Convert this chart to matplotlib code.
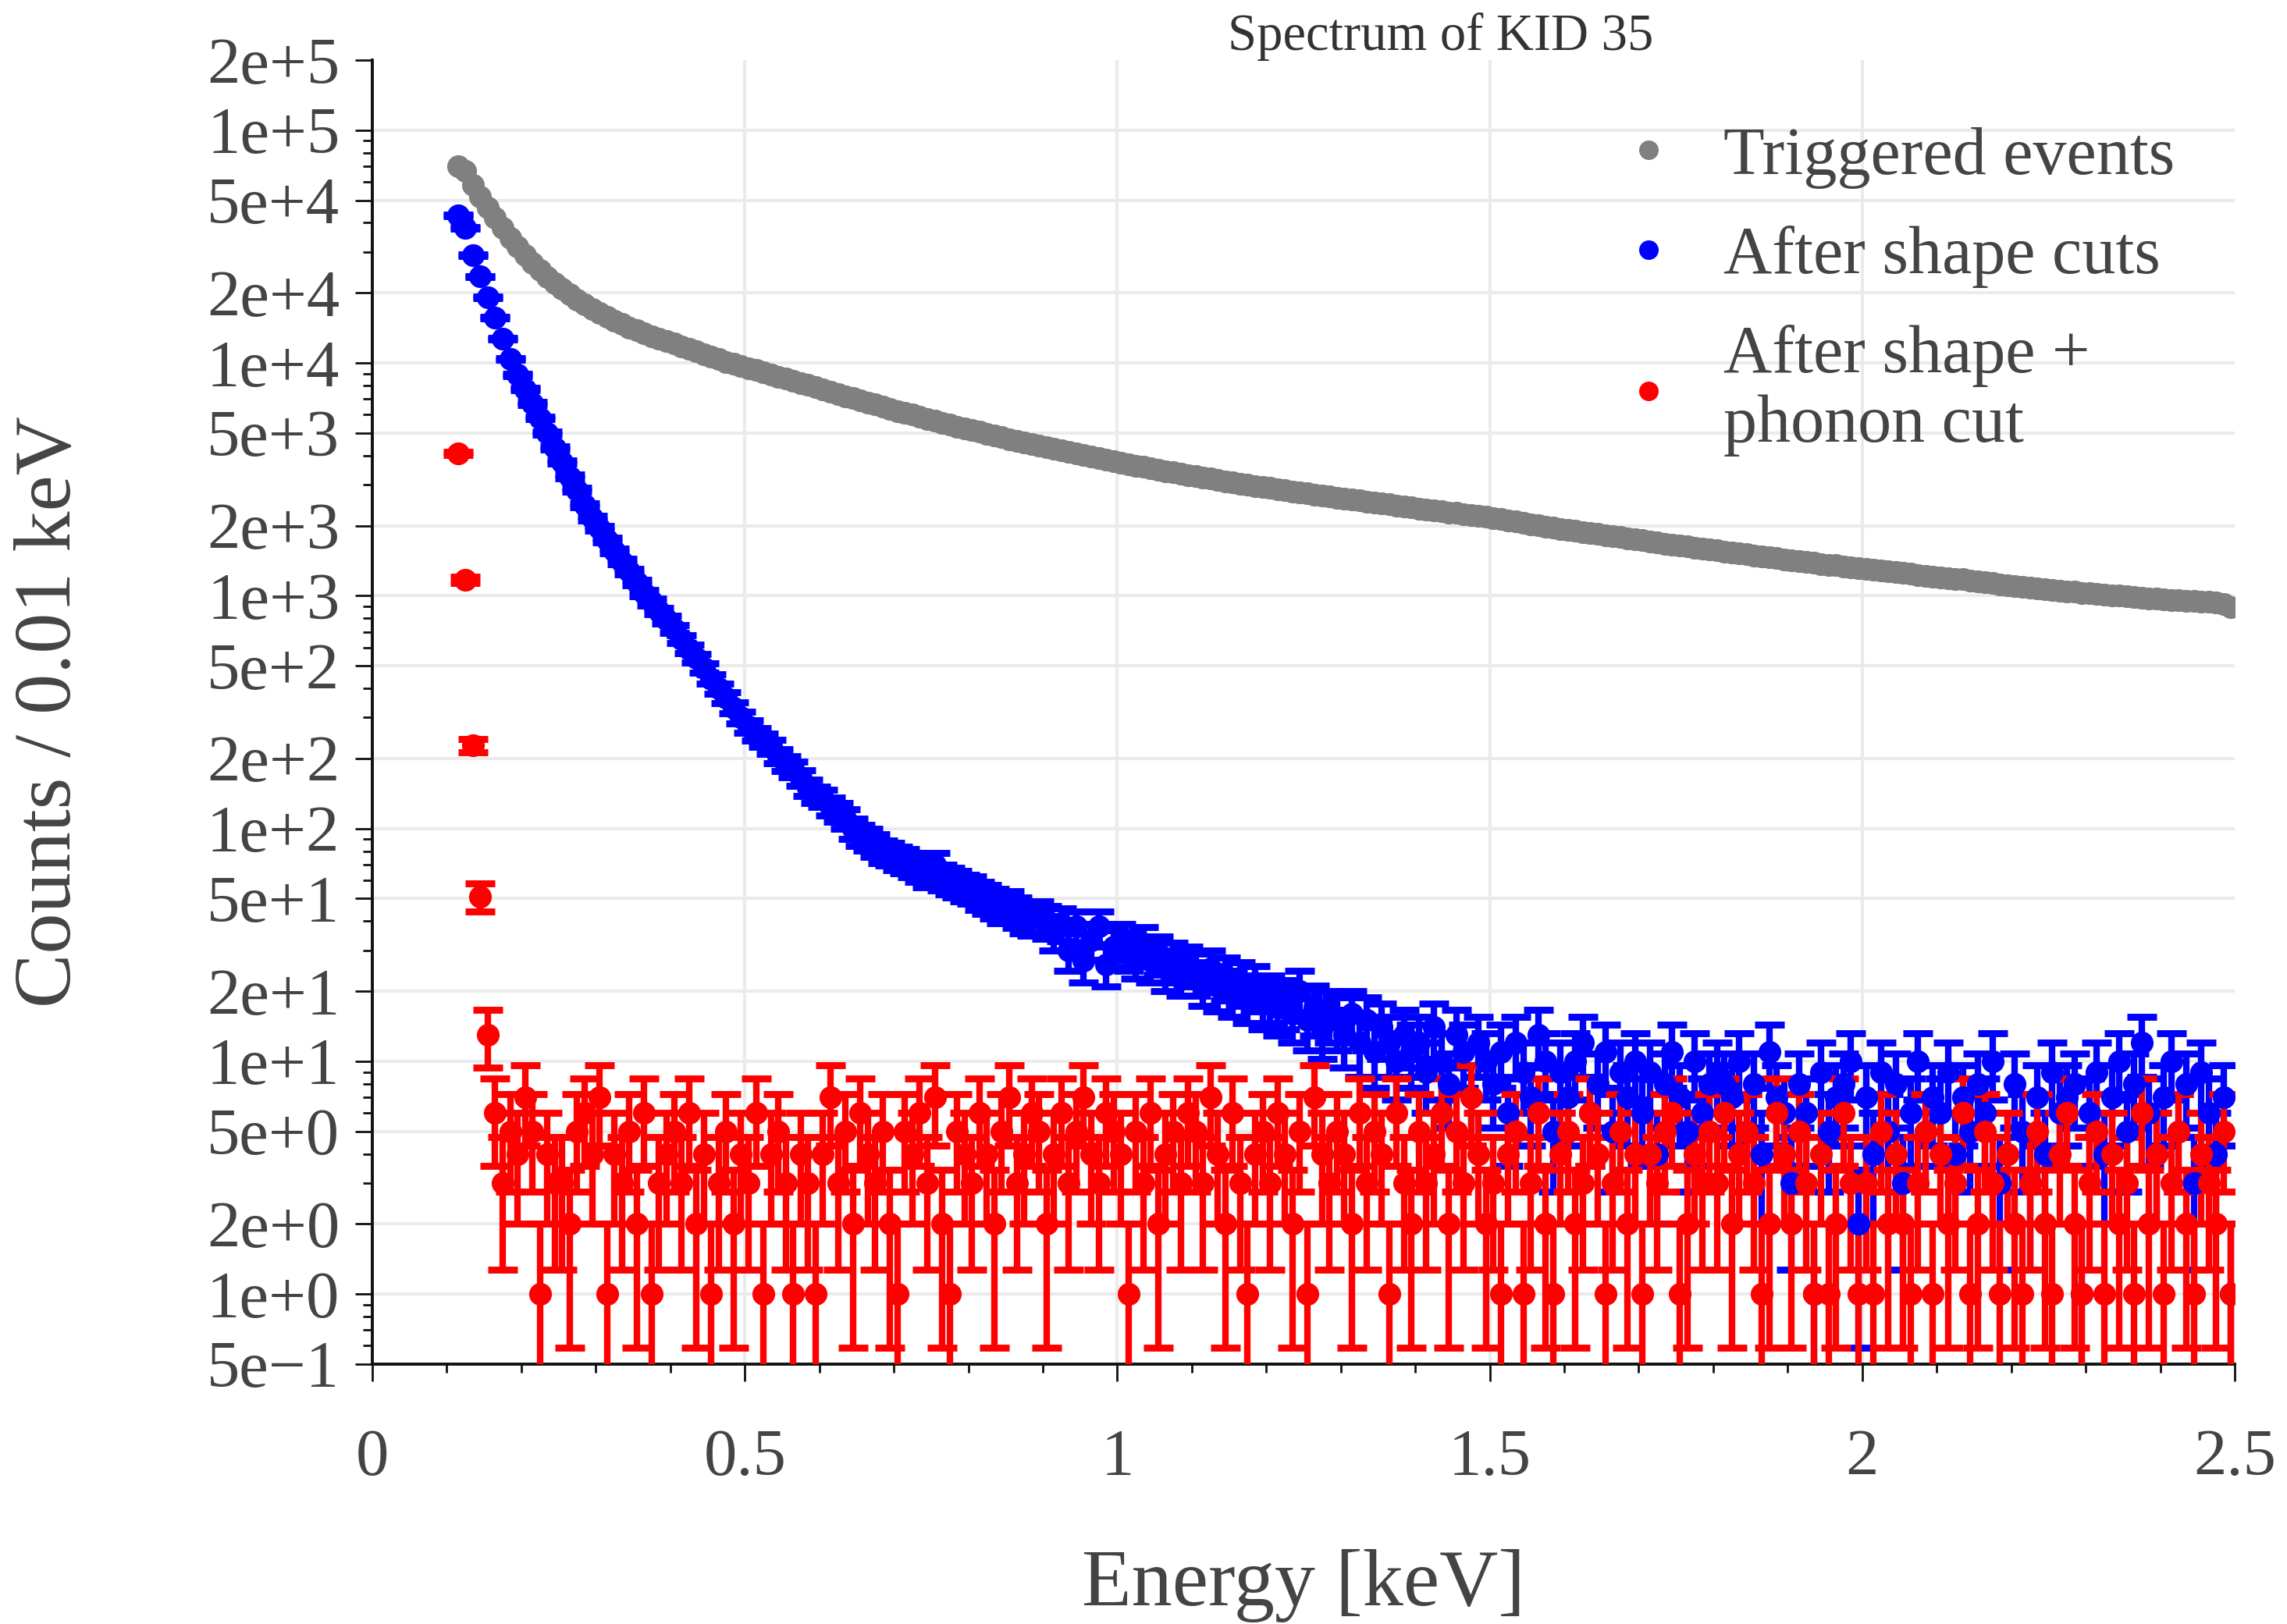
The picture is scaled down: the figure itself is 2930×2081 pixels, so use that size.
import numpy as np
import matplotlib
matplotlib.use("Agg")
import matplotlib.pyplot as plt
from matplotlib.ticker import FixedLocator, FixedFormatter
from matplotlib.lines import Line2D

plt.rcParams['font.family'] = ['Liberation Serif', 'DejaVu Serif']

# ---- data: bin centres 0.115 ... 2.495 keV (0.01 keV bins) ----
energy = np.round(np.arange(0.115, 2.4951, 0.01), 3)

triggered = [
    70000, 67000, 58000, 52000, 46500, 42000, 38000, 34500, 31500,
    29000, 26800, 25000, 23400, 22000, 20800, 19700, 18700, 17800, 17000,
    16400, 15800, 15200, 14700, 14200, 13800, 13400, 13000, 12700, 12400,
    12100, 11800, 11500, 11250, 10900, 10650, 10400, 10100, 9900, 9700,
    9500, 9320, 9100, 8900, 8720, 8550, 8380, 8200, 8060, 7900,
    7700, 7540, 7350, 7200, 7060, 6900, 6760, 6630, 6480, 6350,
    6220, 6100, 5990, 5860, 5750, 5650, 5530, 5440, 5330, 5230,
    5140, 5060, 4960, 4870, 4800, 4710, 4630, 4560, 4480, 4410,
    4340, 4280, 4200, 4140, 4080, 4010, 3950, 3890, 3840, 3780,
    3720, 3670, 3620, 3580, 3520, 3470, 3430, 3390, 3340, 3300,
    3260, 3220, 3190, 3140, 3100, 3070, 3030, 2990, 2960, 2930,
    2900, 2870, 2850, 2810, 2780, 2760, 2720, 2690, 2670, 2640,
    2610, 2590, 2570, 2540, 2510, 2490, 2470, 2440, 2420, 2400,
    2370, 2350, 2330, 2310, 2280, 2270, 2240, 2220, 2200, 2180,
    2150, 2130, 2100, 2080, 2050, 2030, 2010, 1980, 1960, 1940,
    1920, 1900, 1880, 1860, 1840, 1820, 1800, 1790, 1765, 1750,
    1730, 1710, 1690, 1675, 1660, 1640, 1630, 1610, 1595, 1580,
    1565, 1550, 1535, 1525, 1505, 1490, 1480, 1460, 1450, 1435,
    1420, 1410, 1395, 1385, 1370, 1360, 1350, 1335, 1325, 1315,
    1300, 1295, 1280, 1270, 1260, 1250, 1245, 1230, 1220, 1210,
    1200, 1190, 1180, 1175, 1160, 1150, 1140, 1135, 1120, 1110,
    1100, 1095, 1085, 1075, 1070, 1060, 1050, 1045, 1040, 1030,
    1025, 1020, 1010, 1005, 1000, 995, 985, 980, 975, 970,
    965, 960, 955, 950, 950, 945, 940, 935, 920, 890,
]

after_shape = [
    43000, 38000, 29000, 23500, 19200, 15700, 12700, 10400, 8900,
    7700, 6700, 5800, 5000, 4300, 3750, 3250, 2850, 2450, 2150,
    1950, 1740, 1560, 1400, 1270, 1140, 1030, 940, 860, 790,
    720, 650, 590, 540, 490, 440, 400, 365, 330, 300,
    275, 255, 240, 225, 205, 190, 180, 165, 150, 140,
    135, 125, 118, 110, 100, 94, 90, 85, 80, 78,
    75, 73, 70, 67, 64, 70, 62, 60, 58, 56,
    55, 52, 50, 48, 46, 47, 44, 42, 41, 42,
    40, 36, 39, 30, 38, 27, 33, 38, 26, 31,
    33, 30, 28, 32, 27, 29, 25, 27, 24, 26,
    24, 22, 25, 21, 23, 20, 22, 19, 21, 18,
    19, 17, 18, 16, 20, 15, 17, 14, 16, 15,
    13, 16, 12, 15, 11, 14, 12, 10, 13, 11,
    12, 9, 14, 10, 8, 13, 11, 7, 12, 10,
    8, 11, 6, 12, 9, 7, 13, 10, 5, 9,
    7, 10, 12, 6, 8, 11, 5, 9, 7, 10,
    6, 9, 4, 8, 11, 7, 5, 10, 6, 8,
    9, 8, 7, 10, 5, 8, 4, 11, 7, 6,
    3, 8, 6, 1, 9, 5, 7, 8, 10, 2,
    7, 4, 9, 5, 8, 3, 6, 10, 5, 7,
    6, 9, 4, 7, 5, 8, 6, 10, 3, 4,
    8, 5, 3, 7, 4, 9, 6, 7, 8, 1,
    6, 9, 4, 7, 10, 5, 8, 12, 6, 4,
    7, 10, 5, 8, 3, 9, 6, 4, 7, 1,
]

after_phonon = [
    4100, 1170, 228, 51, 13, 6, 3, 5, 4,
    7, 5, 1, 4, 3, 3, 2, 5, 6, 4,
    7, 1, 4, 3, 5, 2, 6, 1, 3, 4,
    5, 3, 6, 2, 4, 1, 3, 5, 2, 4,
    3, 6, 1, 4, 5, 3, 1, 4, 3, 1,
    4, 7, 3, 5, 2, 6, 4, 3, 5, 2,
    1, 5, 4, 6, 3, 7, 2, 1, 5, 4,
    3, 6, 4, 2, 5, 7, 3, 4, 6, 5,
    2, 4, 6, 3, 5, 7, 4, 3, 6, 5,
    4, 1, 5, 3, 6, 2, 4, 5, 3, 6,
    5, 3, 7, 4, 2, 6, 3, 1, 4, 5,
    3, 6, 4, 2, 5, 1, 7, 4, 3, 5,
    4, 2, 6, 3, 5, 4, 1, 6, 3, 2,
    5, 3, 4, 6, 2, 5, 3, 7, 4, 2,
    3, 1, 4, 5, 1, 3, 6, 2, 1, 4,
    5, 2, 3, 6, 4, 1, 3, 5, 2, 4,
    1, 4, 3, 5, 6, 1, 2, 4, 3, 5,
    3, 6, 2, 4, 5, 3, 1, 2, 6, 4,
    2, 5, 3, 1, 4, 1, 2, 6, 3, 1,
    3, 1, 5, 2, 4, 2, 1, 3, 5, 1,
    4, 2, 3, 6, 1, 2, 5, 3, 1, 4,
    2, 1, 3, 5, 2, 1, 4, 6, 2, 1,
    3, 5, 1, 4, 2, 3, 1, 6, 2, 4,
    1, 3, 5, 2, 1, 4, 3, 2, 5, 1,
]

series_labels = ["Triggered events", "After shape cuts", "After shape +\nphonon cut"]
series_colors = ["#808080", "#0000ff", "#ff0000"]

ytick_vals = [0.5, 1, 2, 5, 10, 20, 50, 100, 200, 500, 1e3, 2e3, 5e3, 1e4, 2e4, 5e4, 1e5, 2e5]
ytick_labels = ["5e\u22121", "1e+0", "2e+0", "5e+0", "1e+1", "2e+1", "5e+1", "1e+2", "2e+2",
                "5e+2", "1e+3", "2e+3", "5e+3", "1e+4", "2e+4", "5e+4", "1e+5", "2e+5"]
xtick_vals = [0, 0.5, 1, 1.5, 2, 2.5]
xtick_labels = ["0", "0.5", "1", "1.5", "2", "2.5"]

# ---- figure ----
fig = plt.figure(figsize=(14.65, 10.405), dpi=200)
ax = fig.add_axes([477 / 2930, 1 - 1748 / 2081, (2863 - 477) / 2930, (1748 - 77) / 2081])

ax.set_yscale('log', nonpositive='clip')
ax.set_xlim(0, 2.5)
ax.set_ylim(0.5, 2e5)

# triggered events: error bars are hidden inside the markers
ax.plot(energy, triggered, 'o', color=series_colors[0], markersize=10.5,
        markeredgewidth=0, zorder=3)

for vals, col in zip([after_shape, after_phonon], series_colors[1:]):
    v = np.asarray(vals, dtype=float)
    cont = ax.errorbar(energy, v, yerr=np.sqrt(v), fmt='o', color=col, ecolor=col,
                       markersize=10.5, elinewidth=3.0, capsize=7.5, capthick=3.2, zorder=3)
    cont[0].set_markeredgewidth(0)
    for cap in cont[1]:
        cap.set_markeredgewidth(3.2)
        cap.set_markersize(14)

# grid
for yv in ytick_vals[1:-1]:
    ax.axhline(yv, color='#ebebeb', lw=1.5, zorder=0)
for xv in xtick_vals[1:-1]:
    ax.axvline(xv, color='#ebebeb', lw=1.5, zorder=0)

# spines
for s in ['top', 'right']:
    ax.spines[s].set_visible(False)
for s in ['left', 'bottom']:
    ax.spines[s].set_linewidth(1.4)
    ax.spines[s].set_color('#111111')

# y ticks
ax.yaxis.set_major_locator(FixedLocator(ytick_vals))
ax.yaxis.set_major_formatter(FixedFormatter(ytick_labels))
minor_y = [m * 10.0 ** k for k in range(-1, 6) for m in (3, 4, 6, 7, 8, 9) if 0.5 < m * 10.0 ** k < 2e5]
ax.yaxis.set_minor_locator(FixedLocator(minor_y))
ax.yaxis.set_minor_formatter(FixedFormatter([]))

# x ticks
ax.xaxis.set_major_locator(FixedLocator(xtick_vals))
ax.xaxis.set_major_formatter(FixedFormatter(xtick_labels))
ax.xaxis.set_minor_locator(FixedLocator([i / 10 for i in range(26) if i % 5 != 0]))

ax.tick_params(axis='y', which='major', direction='out', length=8, width=1.0,
               colors='#111111', labelcolor='#444444', labelsize=30.5, pad=7)
ax.tick_params(axis='y', which='minor', direction='out', length=4.5, width=1.0, colors='#111111')
ax.tick_params(axis='x', which='major', direction='out', length=8, width=1.0,
               colors='#111111', labelcolor='#444444', labelsize=30.5, pad=22)
ax.tick_params(axis='x', which='minor', direction='out', length=4, width=1.0, colors='#111111')

ax.set_xlabel("Energy [keV]", fontsize=37.5, color='#444444')
ax.set_ylabel("Counts / 0.01 keV", fontsize=37.5, color='#444444')
ax.xaxis.set_label_coords(0.5, -0.142)
ax.yaxis.set_label_coords(-0.153, 0.5)

fig.text(1846 / 2930, 1 - 47 / 2081, "Spectrum of KID 35", fontsize=24, color='#333333',
         ha='center', va='center')

handles = [Line2D([], [], marker='o', linestyle='none', color=c, markersize=9, markeredgewidth=0)
           for c in series_colors]
leg = fig.legend(handles, series_labels, loc='upper left', bbox_to_anchor=(2069 / 2930, 1 - 162 / 2081),
                 frameon=False, fontsize=31, handlelength=1.0, handletextpad=0.62,
                 labelspacing=0.55, borderpad=0, borderaxespad=0)
for t in leg.get_texts():
    t.set_color('#444444')
    t.set_linespacing(1.15)

fig.savefig("out.png", dpi=200, facecolor='white')
